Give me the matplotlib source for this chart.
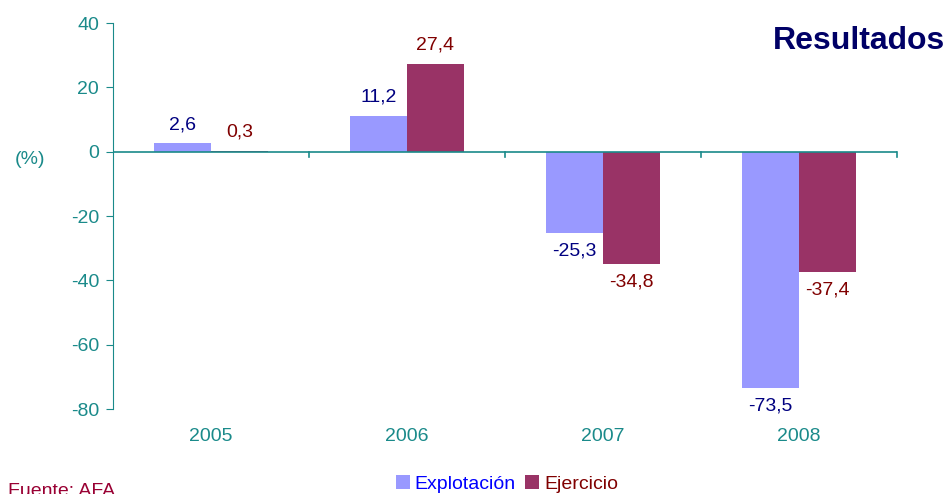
import numpy as np
import matplotlib.pyplot as plt

plt.rcParams['font.family'] = ['Liberation Sans', 'DejaVu Sans']

# data
years = ['2005', '2006', '2007', '2008']
explotacion = [2.6, 11.2, -25.3, -73.5]
ejercicio = [0.3, 27.4, -34.8, -37.4]
y_ticks = [40, 20, 0, -20, -40, -60, -80]

teal = '#1a8a8a'
c_expl = '#9999ff'
c_ejer = '#993366'

fig = plt.figure(figsize=(9.5, 4.94), dpi=100)
ax = fig.add_axes([113 / 950, 1 - 409 / 494, 784 / 950, 386 / 494])

x = np.arange(len(years))
w = 0.29
b1 = ax.bar(x - w / 2, explotacion, w, color=c_expl, label='Explotación')
b2 = ax.bar(x + w / 2, ejercicio, w, color=c_ejer, label='Ejercicio')

ax.set_xlim(-0.5, len(years) - 0.5)
ax.set_ylim(-80, 40)
ax.set_yticks(y_ticks)
ax.set_yticklabels([str(v) for v in y_ticks])

for s in ['top', 'right', 'bottom']:
    ax.spines[s].set_visible(False)
ax.spines['left'].set_color(teal)
ax.axhline(0, color=teal, lw=1.2, zorder=3)
ax.tick_params(axis='y', colors=teal, labelsize=14, length=5, pad=5)
ax.tick_params(axis='x', length=0, labelsize=14, labelcolor=teal, pad=14)
ax.set_xticks(x)
ax.set_xticklabels(years)
# category separator ticks on the zero line
for xb in np.arange(0.5, len(years), 1.0):
    ax.plot([xb, xb], [0, -1.8], color=teal, lw=1.2, clip_on=False)

def fmt(v):
    return f'{v:.1f}'.replace('.', ',')

for bars, vals, col in [(b1, explotacion, '#000080'), (b2, ejercicio, '#800000')]:
    for bar, v in zip(bars, vals):
        cx = bar.get_x() + bar.get_width() / 2
        if v >= 0:
            ax.annotate(fmt(v), (cx, v), xytext=(0, 7), textcoords='offset points',
                        ha='center', va='bottom', color=col, fontsize=14)
        else:
            ax.annotate(fmt(v), (cx, v), xytext=(0, -7), textcoords='offset points',
                        ha='center', va='top', color=col, fontsize=14)

fig.text(945 / 950, 1 - 41 / 494, 'Resultados', ha='right', va='center',
         fontsize=23, fontweight='bold', color='#000066')
fig.text(15 / 950, 1 - 160 / 494, '(%)', ha='left', va='center', fontsize=14, color=teal)
fig.text(8 / 950, 1 - 489 / 494, 'Fuente: AFA', ha='left', va='center_baseline',
         fontsize=14, color='#990033')

leg = fig.legend(handles=[b1, b2], loc='center', bbox_to_anchor=(507 / 950, 1 - 484 / 494),
                 ncol=2, frameon=False, fontsize=14, handlelength=0.7, handleheight=0.7,
                 handletextpad=0.25, columnspacing=0.5, borderpad=0)
for t, c in zip(leg.get_texts(), ['#0000ff', '#800000']):
    t.set_color(c)

fig.savefig('out.png', dpi=100)
